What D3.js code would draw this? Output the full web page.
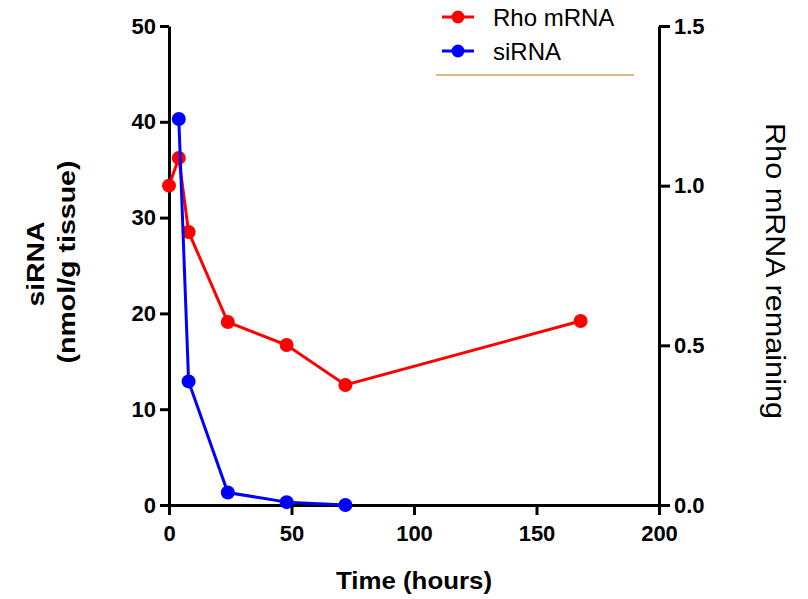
<!DOCTYPE html>
<html>
<head>
<meta charset="utf-8">
<script src="https://cdn.jsdelivr.net/npm/d3@7"></script>
<style>
  body { margin: 0; background: #fff; }
  text { font-family: Arial, "Liberation Sans", sans-serif; }
</style>
</head>
<body>
<svg width="808" height="599"></svg>
<script>
// data
const timeHours = [0, 4, 8, 24, 48, 72, 168];
const rhoRemaining = [1.0, 1.087, 0.855, 0.573, 0.501, 0.376, 0.576];
const sirnaTime = [4, 8, 24, 48, 72];
const sirnaConc = [40.3, 12.9, 1.3, 0.3, 0.0];
const xTicks = [0, 50, 100, 150, 200];
const leftTicks = [0, 10, 20, 30, 40, 50];
const rightTicks = [0, 0.5, 1.0, 1.5];

const svg = d3.select("svg");
const margin = { left: 169, right: 149, top: 26, bottom: 94 };
const width = 808 - margin.left - margin.right,
    height = 599 - margin.top - margin.bottom;

const g = svg.append("g").attr("transform", `translate(${margin.left},${margin.top})`);

const x = d3.scaleLinear().domain([0, 200]).range([0, width]);
const yLeft = d3.scaleLinear().domain([0, 50]).range([height, 0]);
const yRight = d3.scaleLinear().domain([0, 1.5]).range([height, 0]);

// axes
const xAxis = g.append("g")
    .attr("transform", `translate(0,${height})`)
    .call(d3.axisBottom(x).tickValues(xTicks).tickSize(10).tickPadding(10).tickSizeOuter(0));
xAxis.select(".domain").attr("d", `M-8,0.5H${width + 10}`);

const yAxisL = g.append("g")
    .call(d3.axisLeft(yLeft).tickValues(leftTicks).tickSize(9).tickPadding(4).tickSizeOuter(0));

const yAxisR = g.append("g")
    .attr("transform", `translate(${width},0)`)
    .call(d3.axisRight(yRight).tickValues(rightTicks).tickFormat(d3.format(".1f")).tickSize(11).tickPadding(4).tickSizeOuter(0));

[xAxis, yAxisL, yAxisR].forEach(a => {
    a.selectAll("path, line").attr("stroke", "#000").attr("stroke-width", 3);
    a.selectAll("text")
        .attr("fill", "#000")
        .style("font-size", "22px")
        .style("font-weight", "bold");
});

// axis titles
svg.append("text")
    .attr("transform", "translate(44,264) rotate(-90)")
    .attr("text-anchor", "middle")
    .attr("textLength", 85).attr("lengthAdjust", "spacingAndGlyphs")
    .style("font-size", "24px").style("font-weight", "bold")
    .text("siRNA");
svg.append("text")
    .attr("transform", "translate(75,262) rotate(-90)")
    .attr("text-anchor", "middle")
    .attr("textLength", 203).attr("lengthAdjust", "spacingAndGlyphs")
    .style("font-size", "24px").style("font-weight", "bold")
    .text("(nmol/g tissue)");
svg.append("text")
    .attr("transform", "translate(766,271) rotate(90)")
    .attr("text-anchor", "middle")
    .attr("textLength", 296).attr("lengthAdjust", "spacingAndGlyphs")
    .style("font-size", "27px")
    .text("Rho mRNA remaining");
svg.append("text")
    .attr("x", margin.left + x(100))
    .attr("y", 589)
    .attr("text-anchor", "middle")
    .attr("textLength", 156).attr("lengthAdjust", "spacingAndGlyphs")
    .style("font-size", "24px").style("font-weight", "bold")
    .text("Time (hours)");

// series
const rhoData = timeHours.map((t, i) => ({ t, v: rhoRemaining[i] }));
const sirnaData = sirnaTime.map((t, i) => ({ t, v: sirnaConc[i] }));

function drawSeries(data, yScale, color) {
    g.append("path")
        .datum(data)
        .attr("fill", "none")
        .attr("stroke", color)
        .attr("stroke-width", 3)
        .attr("d", d3.line().x(d => x(d.t)).y(d => yScale(d.v)));
    g.selectAll(null)
        .data(data)
        .enter()
        .append("circle")
        .attr("cx", d => x(d.t))
        .attr("cy", d => yScale(d.v))
        .attr("r", 7)
        .attr("fill", color);
}
drawSeries(rhoData, yRight, "#ff0000");
drawSeries(sirnaData, yLeft, "#0000ff");

// legend
const legend = svg.append("g");
[["Rho mRNA", "#ff0000", 17], ["siRNA", "#0000ff", 51]].forEach(([label, color, ly]) => {
    legend.append("line")
        .attr("x1", 442).attr("x2", 474)
        .attr("y1", ly).attr("y2", ly)
        .attr("stroke", color).attr("stroke-width", 3);
    legend.append("circle")
        .attr("cx", 458).attr("cy", ly).attr("r", 6.5).attr("fill", color);
    legend.append("text")
        .attr("x", 493).attr("y", ly)
        .attr("dy", "0.36em")
        .style("font-size", "24px")
        .attr("fill", "#000")
        .text(label);
});
legend.append("line")
    .attr("x1", 436).attr("x2", 634)
    .attr("y1", 75).attr("y2", 75)
    .attr("stroke", "#d9bd80").attr("stroke-width", 2);
</script>
</body>
</html>
